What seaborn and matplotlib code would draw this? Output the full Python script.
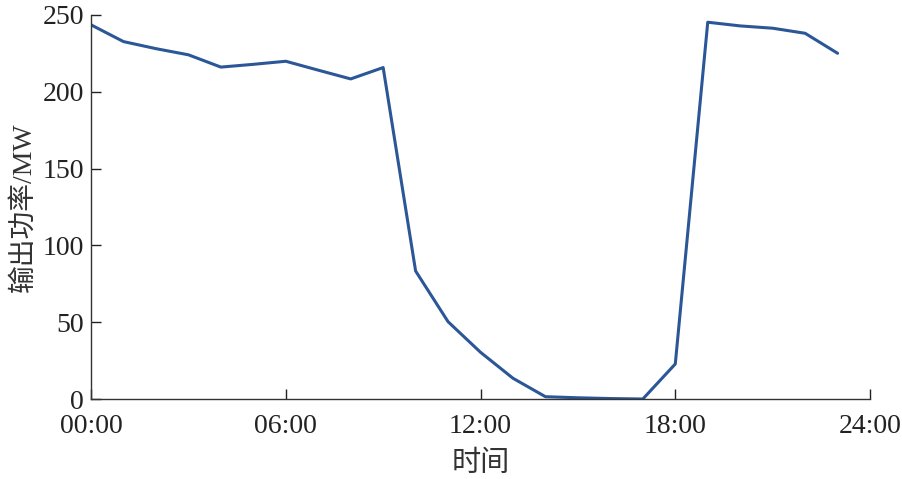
import matplotlib
matplotlib.use("Agg")
import matplotlib.pyplot as plt
import pandas as pd
import seaborn as sns

hours = list(range(24))
power_mw = [243.5, 232.6, 228.0, 224.0, 216.0, 217.8, 219.8, 214.0, 208.3, 215.7,
            83.3, 50.3, 30.4, 13.5, 1.5, 0.8, 0.3, 0.0, 22.8,
            245.2, 242.8, 241.3, 238.0, 225.0]
x_ticks = [0, 6, 12, 18, 24]
x_tick_labels = ["00:00", "06:00", "12:00", "18:00", "24:00"]
y_ticks = [0, 50, 100, 150, 200, 250]

sns.set_theme(style="ticks")
plt.rcParams["font.family"] = ["Liberation Serif", "Noto Sans CJK SC", "DejaVu Sans"]

df = pd.DataFrame({"hour": hours, "power": power_mw})

fig = plt.figure(figsize=(9.03, 4.79), dpi=100)
ax = fig.add_axes([0.1008, 0.167, 0.8627, 0.802])
sns.lineplot(data=df, x="hour", y="power", ax=ax, color="#2b5797", linewidth=2.2)

ax.set_xlim(0, 24)
ax.set_ylim(0, 250)
ax.set_xticks(x_ticks)
ax.set_xticklabels(x_tick_labels)
ax.set_yticks(y_ticks)
ax.tick_params(direction="in", length=7, width=1, labelsize=20, colors="#222222")
ax.tick_params(axis="x", pad=11)
ax.tick_params(axis="y", pad=5)
for side in ("top", "right"):
    ax.spines[side].set_visible(False)
for side in ("left", "bottom"):
    ax.spines[side].set_color("#333333")
    ax.spines[side].set_linewidth(1)

ax.set_xlabel("时间", fontsize=21, color="#333333", labelpad=8)
ax.set_ylabel("输出功率/MW", fontsize=20, color="#333333", labelpad=4)

fig.savefig("out.png", dpi=100)
plt.close(fig)
